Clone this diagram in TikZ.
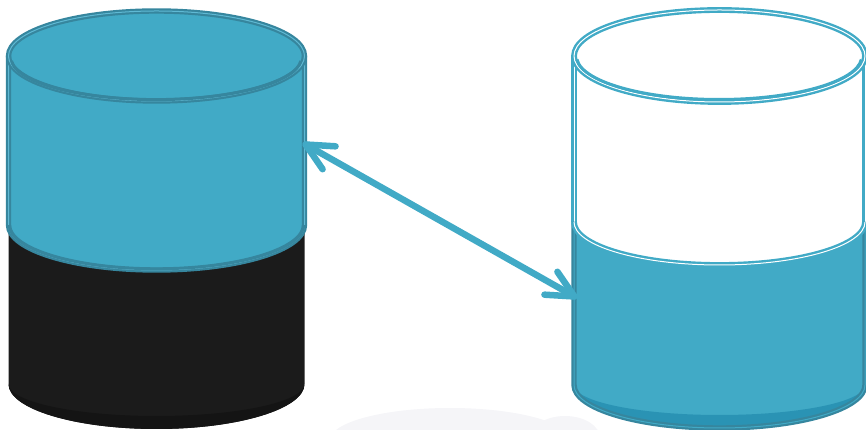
\documentclass[tikz,border=0pt]{standalone}
\usetikzlibrary{calc}
\definecolor{cblue}{RGB}{65,170,198}
\definecolor{cdark}{RGB}{54,134,158}
\definecolor{clight}{RGB}{95,185,212}
\definecolor{cblack}{RGB}{27,27,27}
\definecolor{cblackdeep}{RGB}{20,20,20}
\definecolor{cbluedeep}{RGB}{42,147,180}
\definecolor{shadowgray}{RGB}{245,245,248}
\begin{document}
\begin{tikzpicture}[x=1pt,y=1pt,
  darkedge/.style={draw=cdark, line width=2.2pt, double=clight, double distance=1pt},
  whiteedge/.style={draw=cblue, line width=2.4pt, double=white, double distance=1pt},
  lowedge/.style={draw=cdark, line width=2.2pt, double=cblue, double distance=1pt},
  arrowline/.style={draw=cblue, line width=6.5pt, line cap=round, line join=round}]
\useasboundingbox (0,0) rectangle (866,430);

% faint floor shadow
\fill[shadowgray] (450,-10) ellipse [x radius=120, y radius=32];
\fill[shadowgray] (565,-8) ellipse [x radius=35, y radius=22];

% ---------- left cylinder ----------
% black lower part
\fill[cblack] (8.5,205) -- (8.5,46) arc[start angle=180, end angle=360, x radius=148, y radius=45] -- (304.5,205) -- cycle;
\fill[cblackdeep] (8.5,46) arc[start angle=180, end angle=360, x radius=148, y radius=45]
  -- (304.5,46) arc[start angle=360, end angle=180, x radius=148, y radius=32] -- cycle;
% blue upper part
\fill[cblue] (8.5,374) -- (8.5,205) arc[start angle=180, end angle=360, x radius=148, y radius=45]
  -- (304.5,374) arc[start angle=0, end angle=180, x radius=148, y radius=45] -- cycle;
% outlines
\draw[darkedge] (8.5,374) -- (8.5,205) arc[start angle=180, end angle=360, x radius=148, y radius=45] -- (304.5,374);
\draw[cdark, line width=2.5pt] (9,205) arc[start angle=180, end angle=360, x radius=147.5, y radius=44];
\draw[darkedge] (156.5,374) ellipse [x radius=148, y radius=45];
\draw[cdark, line width=3pt] (11.5,369) arc[start angle=184, end angle=356, x radius=145, y radius=41.5];

% ---------- right cylinder ----------
% blue lower part
\fill[cblue] (574,208) -- (574,45) arc[start angle=180, end angle=360, x radius=145.5, y radius=43]
  -- (865,208) arc[start angle=0, end angle=-180, x radius=145.5, y radius=43] -- cycle;
\fill[cbluedeep] (574,45) arc[start angle=180, end angle=360, x radius=145.5, y radius=43]
  -- (865,45) arc[start angle=360, end angle=180, x radius=145.5, y radius=30] -- cycle;
% white top face
\fill[white] (719.5,374) ellipse [x radius=145.5, y radius=46];
% outlines
\draw[whiteedge] (574,374) -- (574,208);
\draw[whiteedge] (865,374) -- (865,208);
\draw[lowedge] (574,208) -- (574,45) arc[start angle=180, end angle=360, x radius=145.5, y radius=43] -- (865,208);
\draw[whiteedge] (574,208) arc[start angle=180, end angle=360, x radius=145.5, y radius=43];
\draw[whiteedge] (719.5,374) ellipse [x radius=145.5, y radius=46];
\draw[cblue, line width=3pt] (577,370.5) arc[start angle=184, end angle=356, x radius=142.5, y radius=43];

% ---------- arrow ----------
\coordinate (a) at (305.6,285.5);
\coordinate (b) at (574.4,133.5);
\draw[arrowline] (a) -- (b);
\draw[arrowline] ($(a)!30pt!26:(b)$) -- (a) -- ($(a)!30pt!-26:(b)$);
\draw[arrowline] ($(b)!30pt!26:(a)$) -- (b) -- ($(b)!30pt!-26:(a)$);
\end{tikzpicture}
\end{document}
